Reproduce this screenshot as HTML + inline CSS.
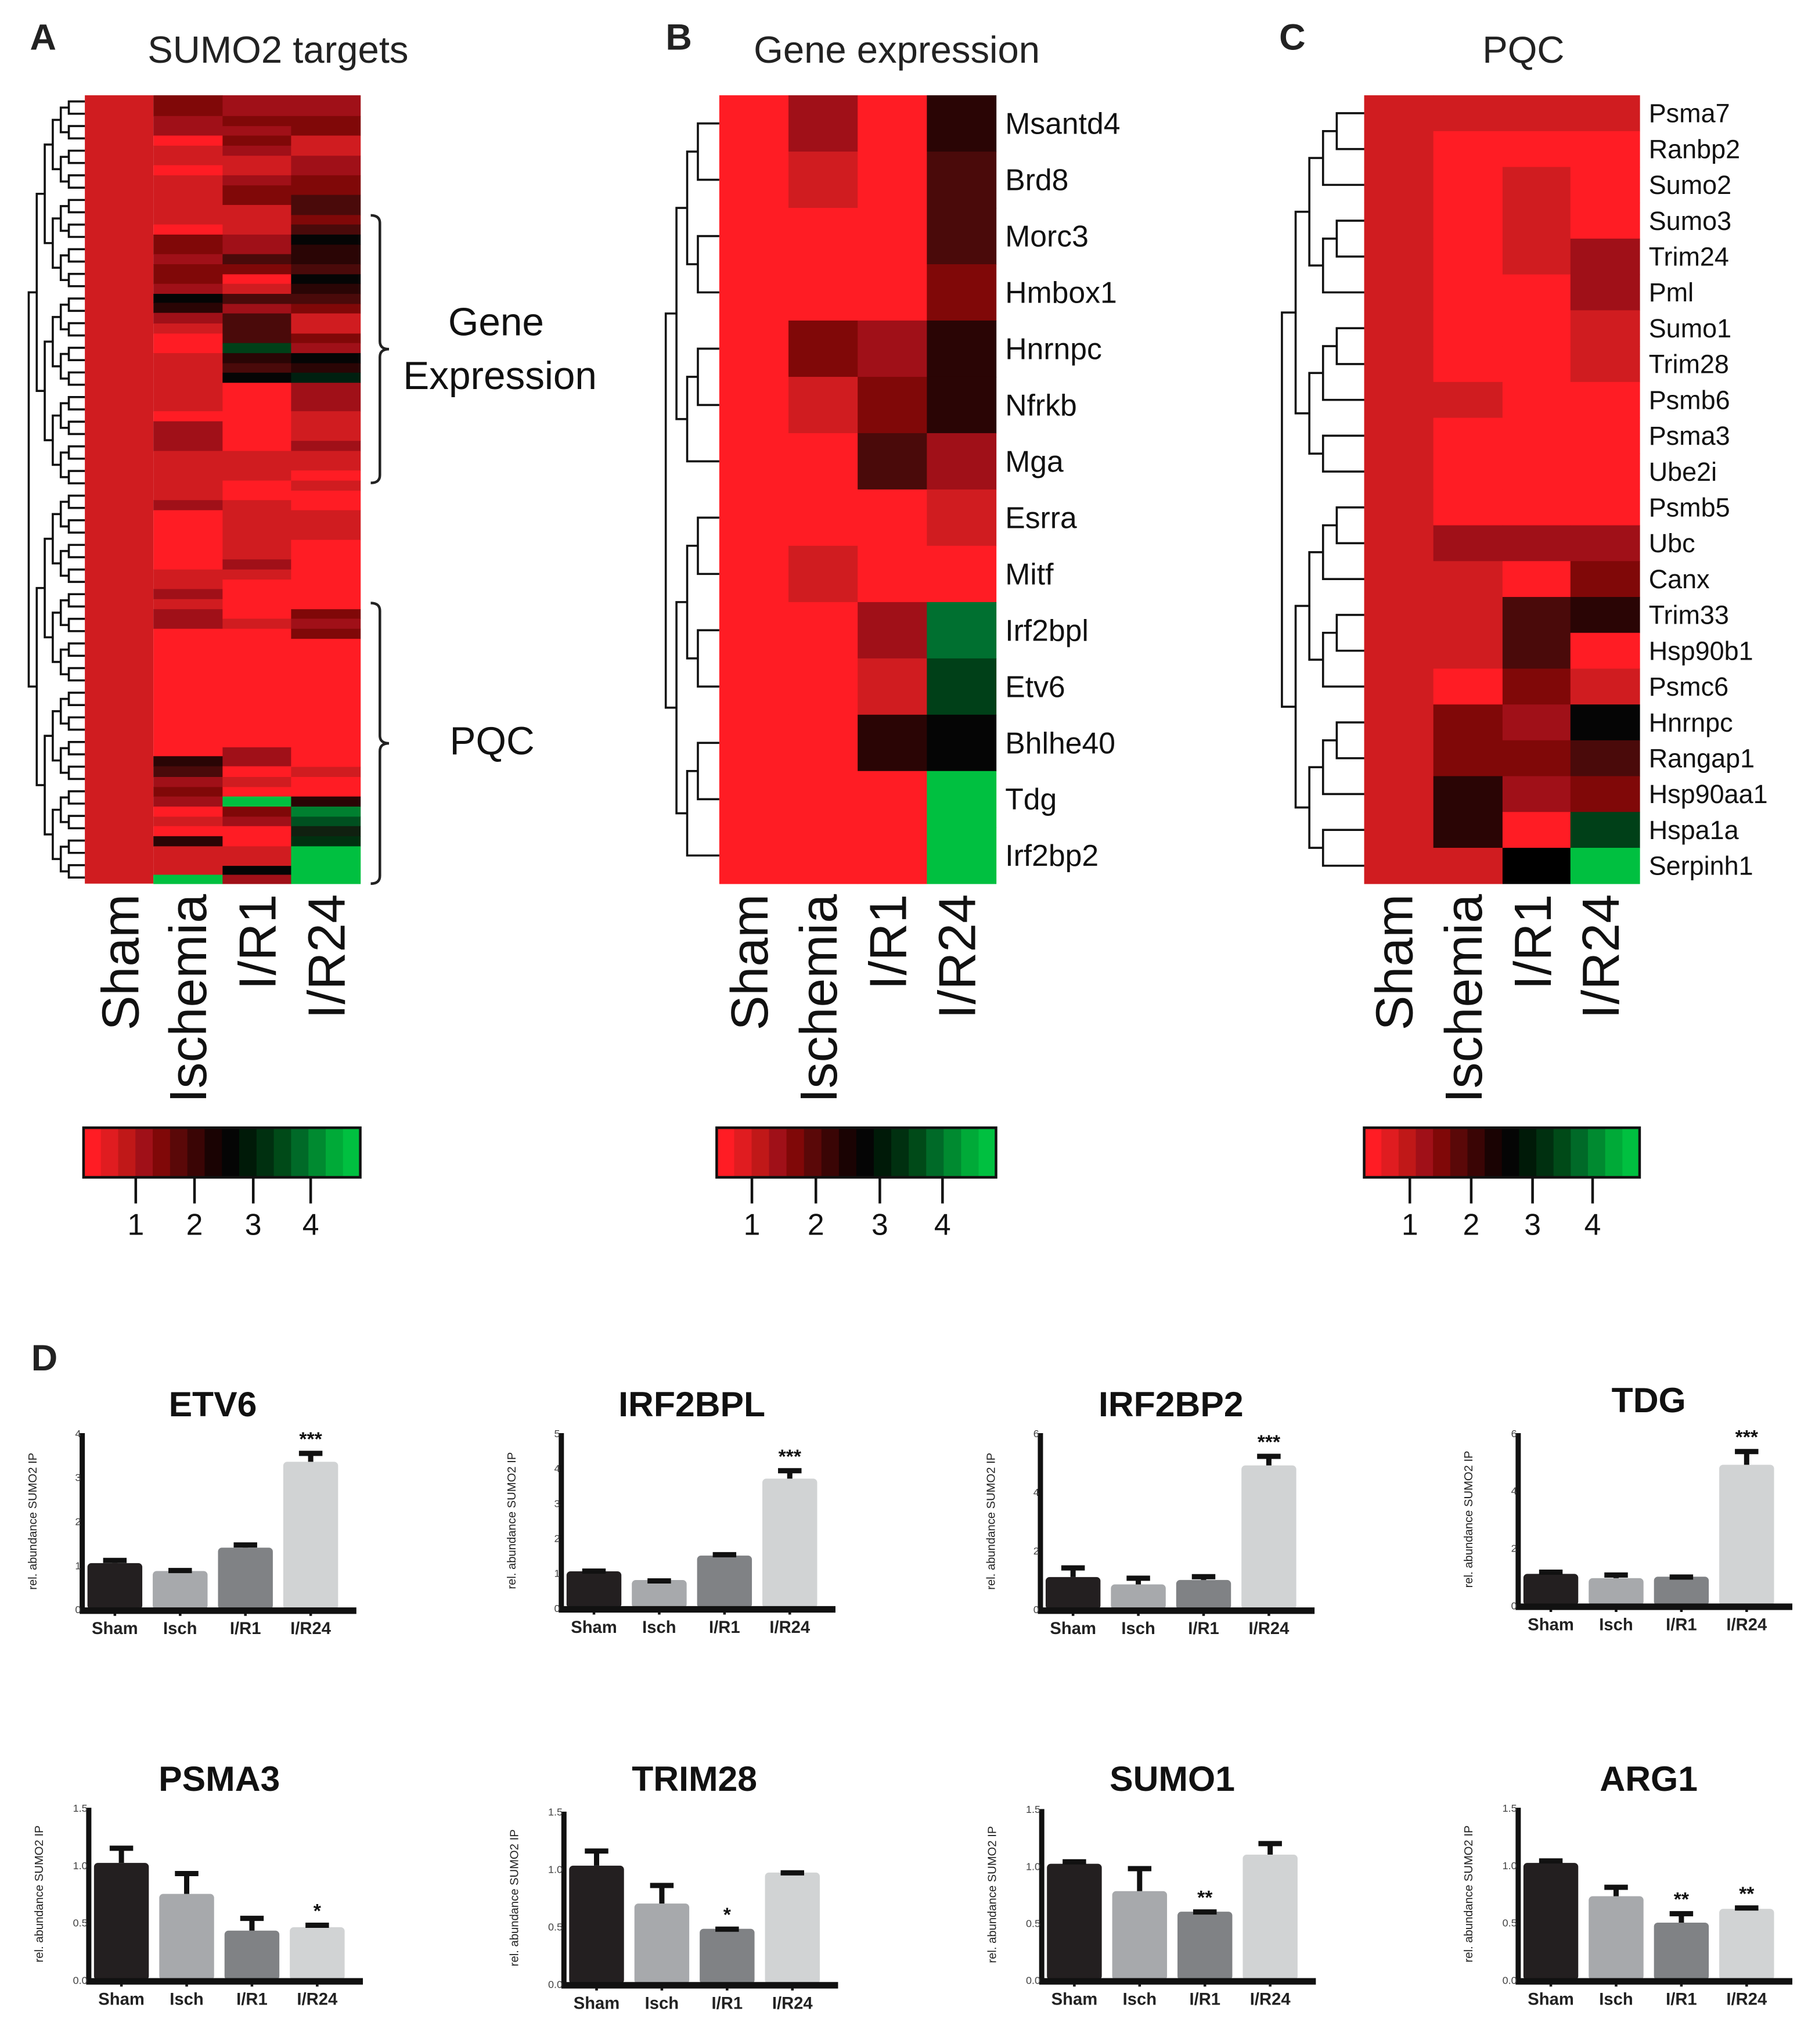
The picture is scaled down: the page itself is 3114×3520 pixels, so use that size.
<!DOCTYPE html>
<html><head><meta charset="utf-8"><style>
html,body{margin:0;padding:0;background:#fff;}
svg{display:block;}
text{font-family:"Liberation Sans",sans-serif;}
</style></head><body>
<svg id="fig" xmlns="http://www.w3.org/2000/svg" width="3114" height="3520" viewBox="0 0 1385 1566" preserveAspectRatio="none">
<rect x="0" y="0" width="1385" height="1566" fill="#fff"/>
<g id="gA"></g>
<g id="gB"></g>
<g id="gC"></g>
<g id="gD"></g>
</svg>
<script>
// ---------- data ----------
const conditions = ["Sham","Ischemia","I/R1","I/R24"];
const barCats = ["Sham","Isch","I/R1","I/R24"];
const colorbarTicks = ["1","2","3","4"];
// Heatmap A segments (in reference units 160..1490): [start,end,color]
const aIsch = [[160,195,"#800808"],[195,228,"#a01018"],[228,245,"#ff1c24"],[245,278,"#d01c20"],[278,295,"#ff1c24"],[295,378,"#d01c20"],[378,395,"#ff1c24"],[395,428,"#800808"],[428,445,"#a01018"],[445,478,"#800808"],[478,495,"#a01018"],[495,510,"#050505"],[510,527,"#2a0505"],[527,545,"#a01018"],[545,562,"#d01c20"],[562,595,"#ff1c24"],[595,693,"#d01c20"],[693,710,"#ff1c24"],[710,760,"#a01018"],[760,843,"#d01c20"],[843,860,"#a01018"],[860,960,"#ff1c24"],[960,993,"#d01c20"],[993,1010,"#a01018"],[1010,1027,"#d01c20"],[1027,1060,"#a01018"],[1060,1275,"#ff1c24"],[1275,1292,"#2a0505"],[1292,1310,"#4a0a0a"],[1310,1327,"#a01018"],[1327,1343,"#800808"],[1343,1360,"#a01018"],[1360,1377,"#ff1c24"],[1377,1393,"#d01c20"],[1393,1410,"#ff1c24"],[1410,1427,"#2a0505"],[1427,1475,"#d01c20"],[1475,1490,"#00c040"]];
const aIR1 = [[160,195,"#a01018"],[195,212,"#800808"],[212,228,"#a01018"],[228,245,"#800808"],[245,262,"#a01018"],[262,295,"#d01c20"],[295,312,"#a01018"],[312,345,"#800808"],[345,395,"#d01c20"],[395,428,"#a01018"],[428,445,"#4a0a0a"],[445,462,"#800808"],[462,478,"#ff1c24"],[478,495,"#d01c20"],[495,512,"#4a0a0a"],[512,528,"#a01018"],[528,578,"#4a0a0a"],[578,595,"#004018"],[595,612,"#2a0505"],[612,628,"#4a0a0a"],[628,645,"#050505"],[645,760,"#ff1c24"],[760,810,"#d01c20"],[810,843,"#ff1c24"],[843,943,"#d01c20"],[943,960,"#a01018"],[960,977,"#d01c20"],[977,1043,"#ff1c24"],[1043,1060,"#d01c20"],[1060,1260,"#ff1c24"],[1260,1292,"#a01018"],[1292,1310,"#ff1c24"],[1310,1327,"#d01c20"],[1327,1343,"#ff1c24"],[1343,1360,"#00c040"],[1360,1377,"#800808"],[1377,1393,"#a01018"],[1393,1427,"#ff1c24"],[1427,1460,"#d01c20"],[1460,1475,"#050505"],[1475,1490,"#a01018"]];
const aIR24 = [[160,195,"#a01018"],[195,228,"#800808"],[228,262,"#d01c20"],[262,295,"#a01018"],[295,328,"#800808"],[328,362,"#4a0a0a"],[362,378,"#800808"],[378,395,"#4a0a0a"],[395,412,"#050505"],[412,445,"#2a0505"],[445,462,"#4a0a0a"],[462,478,"#050505"],[478,495,"#2a0505"],[495,512,"#4a0a0a"],[512,528,"#800808"],[528,562,"#d01c20"],[562,578,"#800808"],[578,595,"#a01018"],[595,612,"#050505"],[612,628,"#2a0505"],[628,645,"#002010"],[645,693,"#a01018"],[693,743,"#d01c20"],[743,760,"#a01018"],[760,793,"#d01c20"],[793,810,"#ff1c24"],[810,827,"#d01c20"],[827,860,"#ff1c24"],[860,910,"#d01c20"],[910,1027,"#ff1c24"],[1027,1043,"#800808"],[1043,1060,"#a01018"],[1060,1077,"#800808"],[1077,1293,"#ff1c24"],[1293,1310,"#d01c20"],[1310,1343,"#ff1c24"],[1343,1360,"#2a0505"],[1360,1377,"#008030"],[1377,1393,"#005020"],[1393,1410,"#102010"],[1410,1427,"#003010"],[1427,1490,"#00c040"]];
const bGenes = ["Msantd4","Brd8","Morc3","Hmbox1","Hnrnpc","Nfrkb","Mga","Esrra","Mitf","Irf2bpl","Etv6","Bhlhe40","Tdg","Irf2bp2"];
const bIsch = ["#a01018","#d01c20","#ff1c24","#ff1c24","#800808","#d01c20","#ff1c24","#ff1c24","#d01c20","#ff1c24","#ff1c24","#ff1c24","#ff1c24","#ff1c24"];
const bIR1  = ["#ff1c24","#ff1c24","#ff1c24","#ff1c24","#a01018","#800808","#4a0a0a","#ff1c24","#ff1c24","#a01018","#d01c20","#2a0505","#ff1c24","#ff1c24"];
const bIR24 = ["#2a0505","#4a0a0a","#4a0a0a","#800808","#2a0505","#2a0505","#a01018","#d01c20","#ff1c24","#007030","#004018","#050505","#00c040","#00c040"];
const cGenes = ["Psma7","Ranbp2","Sumo2","Sumo3","Trim24","Pml","Sumo1","Trim28","Psmb6","Psma3","Ube2i","Psmb5","Ubc","Canx","Trim33","Hsp90b1","Psmc6","Hnrnpc","Rangap1","Hsp90aa1","Hspa1a","Serpinh1"];
const cIsch = ["#d01c20","#ff1c24","#ff1c24","#ff1c24","#ff1c24","#ff1c24","#ff1c24","#ff1c24","#d01c20","#ff1c24","#ff1c24","#ff1c24","#a01018","#d01c20","#d01c20","#d01c20","#ff1c24","#800808","#800808","#2a0505","#2a0505","#d01c20"];
const cIR1  = ["#d01c20","#ff1c24","#d01c20","#d01c20","#d01c20","#ff1c24","#ff1c24","#ff1c24","#ff1c24","#ff1c24","#ff1c24","#ff1c24","#a01018","#ff1c24","#4a0a0a","#4a0a0a","#800808","#a01018","#800808","#a01018","#ff1c24","#000000"];
const cIR24 = ["#d01c20","#ff1c24","#ff1c24","#ff1c24","#a01018","#a01018","#d01c20","#d01c20","#ff1c24","#ff1c24","#ff1c24","#ff1c24","#a01018","#800808","#2a0505","#ff1c24","#d01c20","#050505","#4a0a0a","#800808","#004018","#00c040"];
// Bar charts (panel D)
const barTitles = ["ETV6","IRF2BPL","IRF2BP2","TDG","PSMA3","TRIM28","SUMO1","ARG1"];
const barMax = [4,5,6,6,1.5,1.5,1.5,1.5];
const barTickLabels = [["0","1","2","3","4"],["0","1","2","3","4","5"],["0","2","4","6"],["0","2","4","6"],["0.0","0.5","1.0","1.5"],["0.0","0.5","1.0","1.5"],["0.0","0.5","1.0","1.5"],["0.0","0.5","1.0","1.5"]];
const barTickValues = [[0,1,2,3,4],[0,1,2,3,4,5],[0,2,4,6],[0,2,4,6],[0,0.5,1,1.5],[0,0.5,1,1.5],[0,0.5,1,1.5],[0,0.5,1,1.5]];
const barMeans = [[1.05,0.87,1.4,3.35],[1.05,0.8,1.5,3.7],[1.1,0.85,1.0,4.9],[1.1,0.95,1.0,4.9],[1.02,0.75,0.43,0.46],[1.03,0.7,0.48,0.97],[1.02,0.78,0.6,1.1],[1.02,0.73,0.5,0.62]];
const barErrors = [[0.12,0.07,0.12,0.25],[0.08,0.05,0.1,0.3],[0.4,0.3,0.2,0.4],[0.15,0.2,0.08,0.55],[0.15,0.2,0.13,0.04],[0.15,0.18,0.02,0.02],[0.04,0.22,0.02,0.12],[0.04,0.1,0.1,0.03]];
const barStars = [["","","","***"],["","","","***"],["","","","***"],["","","","***"],["","","","*"],["","","*",""],["","","**",""],["","","**","**"]];
const colorbarColors = ["#ff1c24","#e01c20","#c01818","#a01018","#800808","#5a0808","#3a0505","#1a0303","#050505","#001a08","#003010","#004a18","#006a28","#008a30","#00aa38","#00c040"];

// ---------- helpers ----------
const NS="http://www.w3.org/2000/svg";
function mk(parent,tag,attrs,txt){const e=document.createElementNS(NS,tag);for(const k in attrs)e.setAttribute(k,attrs[k]);if(txt!==undefined)e.textContent=txt;parent.appendChild(e);return e;}
function dendro(g,leafYs,xRight,xLeft){
  function rec(lo,hi,depth,maxDepth){
    if(lo===hi) return {y:leafYs[lo],x:xRight};
    const mid=Math.floor((lo+hi)/2);
    const a=rec(lo,mid,depth+1,maxDepth), b=rec(mid+1,hi,depth+1,maxDepth);
    const x=xLeft+(xRight-xLeft)*(depth/(maxDepth+1));
    const l1=mk(g,"path",{d:`M${a.x},${a.y}H${x}V${b.y}H${b.x}`,fill:"none",stroke:"#111","stroke-width":1.6});
    
    
    return {y:(a.y+b.y)/2,x:x};
  }
  const md=Math.ceil(Math.log2(leafYs.length));
  rec(0,leafYs.length-1,0,md);
}
function colorbar(g,x0,x1,ticks){
  const y0=864,y1=902,w=(x1-x0)/colorbarColors.length;
  colorbarColors.forEach((c,i)=>{const r=mk(g,"rect",{x:x0+i*w,y:y0,width:w+0.5,height:y1-y0,fill:c});
    });
  const b=mk(g,"rect",{x:x0,y:y0,width:x1-x0,height:y1-y0,fill:"none",stroke:"#111","stroke-width":2});
  
  ticks.forEach((tx,i)=>{mk(g,"line",{x1:tx,x2:tx,y1:y1,y2:y1+20,stroke:"#111","stroke-width":2});
    const t=mk(g,"text",{x:tx,y:946,"font-size":23,"text-anchor":"middle",fill:"#111"},colorbarTicks[i]);
    });
}
function colLabels(g,xs){
  conditions.forEach((c,i)=>{const t=mk(g,"text",{transform:`translate(${xs[i]+15},685) rotate(-90)`,"font-size":40,"text-anchor":"end",fill:"#111"},c);
    });
}
function header(g,letter,lx,title,tx){
  const a=mk(g,"text",{x:lx,y:38,"font-size":28,"font-weight":"bold","text-anchor":"middle",fill:"#222"},letter);
  
  const b=mk(g,"text",{x:tx,y:48,"font-size":29,"text-anchor":"middle",fill:"#222"},title);
  
}

// ---------- Panel A ----------
(function(){
  const g=document.getElementById("gA");
  header(g,"A",33,"SUMO2 targets",213);
  const top=73,bot=677,z0=160,z1=1490;
  const yz=z=>top+(z-z0)*(bot-top)/(z1-z0);
  const cx=[65,117.5,170.5,223,276];
  const sh=mk(g,"rect",{x:cx[0],y:top,width:cx[1]-cx[0],height:bot-top,fill:"#d01c20"});
  
  [aIsch,aIR1,aIR24].forEach((col,ci)=>{col.forEach(s=>{
    const r=mk(g,"rect",{x:cx[ci+1],y:yz(s[0]),width:cx[ci+2]-cx[ci+1]+0.3,height:yz(s[1])-yz(s[0])+0.3,fill:s[2]});
    });});
  const leaves=[];for(let i=0;i<64;i++)leaves.push(top+4.7+i*(bot-top-9.4)/63);
  dendro(g,leaves,65,22);
  function brace(y0,y1){
    const m=(y0+y1)/2;
    const p=mk(g,"path",{d:`M284,${y0}Q291,${y0} 291,${y0+6}V${m-6}Q291,${m} 298,${m}Q291,${m} 291,${m+6}V${y1-6}Q291,${y1} 284,${y1}`,fill:"none",stroke:"#222","stroke-width":2});
    
  }
  brace(165,370);brace(462,677);
  [["Gene",380,257],["Expression",383,298],["PQC",377,578]].forEach(a=>{
    const t=mk(g,"text",{x:a[1],y:a[2],"font-size":30,"text-anchor":"middle",fill:"#111"},a[0]);
    });
  colLabels(g,[91,143,196,249]);
  colorbar(g,64,276,[104,149,194,238]);
})();

// ---------- Panel B ----------
(function(){
  const g=document.getElementById("gB");
  header(g,"B",520,"Gene expression",687);
  const top=73,bot=677,x=[551,604,657,710,763],h=(bot-top)/bGenes.length;
  bGenes.forEach((gn,i)=>{
    ["#ff1c24",bIsch[i],bIR1[i],bIR24[i]].forEach((c,ci)=>{
      const r=mk(g,"rect",{x:x[ci],y:top+i*h,width:x[ci+1]-x[ci]+0.3,height:h+0.3,fill:c});
      });
    const t=mk(g,"text",{x:770,y:top+i*h+h/2+8,"font-size":23,fill:"#111"},gn);
    
  });
  const leaves=bGenes.map((_,i)=>top+i*h+h/2);
  dendro(g,leaves,551,510);
  colLabels(g,[573,626,679,732]);
  colorbar(g,549,763,[576,625,674,722]);
})();

// ---------- Panel C ----------
(function(){
  const g=document.getElementById("gC");
  header(g,"C",990,"PQC",1167);
  const top=73,bot=677,x=[1045,1098,1151,1203,1256],h=(bot-top)/cGenes.length;
  cGenes.forEach((gn,i)=>{
    ["#d01c20",cIsch[i],cIR1[i],cIR24[i]].forEach((c,ci)=>{
      const r=mk(g,"rect",{x:x[ci],y:top+i*h,width:x[ci+1]-x[ci]+0.3,height:h+0.3,fill:c});
      });
    const t=mk(g,"text",{x:1263,y:top+i*h+h/2+7,"font-size":20,fill:"#111"},gn);
    
  });
  const leaves=cGenes.map((_,i)=>top+i*h+h/2);
  dendro(g,leaves,1045,982);
  colLabels(g,[1067,1120,1173,1225]);
  colorbar(g,1045,1256,[1080,1127,1174,1220]);
})();

// ---------- Panel D ----------
(function(){
  const g=document.getElementById("gD");
  const d=mk(g,"text",{x:34,y:1050,"font-size":28,"font-weight":"bold","text-anchor":"middle",fill:"#222"},"D");
  
  const axX=[63,430,797,1163,68,432,798,1163];
  const axTop=[1098,1098,1098,1098,1385,1388,1386,1385];
  const axBot=[1233,1232,1233,1230,1517,1520,1517,1517];
  const titleY=[1085,1085,1085,1082,1372,1372,1372,1372];
  const fills=["#231f20","#a7a9ac","#808285","#d1d3d4"];
  barTitles.forEach((title,p)=>{
    const pg=mk(g,"g",{});
    
    
    const x0=axX[p],yt=axTop[p],yb=axBot[p],mx=barMax[p];
    const ys=v=>yb-(v/mx)*(yb-yt);
    const xs=i=>x0+25+i*50;
    const tt=mk(pg,"text",{x:x0+100,y:titleY[p],"font-size":27,"font-weight":"bold","text-anchor":"middle",fill:"#111"},title);
    
    const yl=mk(pg,"text",{transform:`translate(${x0-35},${(yt+yb)/2}) rotate(-90)`,"font-size":9,"text-anchor":"middle",fill:"#222"},"rel. abundance SUMO2 IP");
    
    barMeans[p].forEach((v,i)=>{
      const bw=42,cx=xs(i);
      const r=mk(pg,"rect",{x:cx-bw/2,y:ys(v),width:bw,height:yb-ys(v),rx:3,fill:fills[i]});
      
      const e=barErrors[p][i];
      const el=mk(pg,"path",{d:`M${cx},${ys(v)}V${ys(v+e)}M${cx-9},${ys(v+e)+2}H${cx+9}`,stroke:"#111","stroke-width":4,fill:"none"});
      
      if(barStars[p][i]){const s=mk(pg,"text",{x:cx,y:ys(v+e)-4,"font-size":15,"font-weight":"bold","text-anchor":"middle",fill:"#111"},barStars[p][i]);
        }
      mk(pg,"line",{x1:cx,x2:cx,y1:yb,y2:yb+5,stroke:"#111","stroke-width":2});
      const xl=mk(pg,"text",{x:cx,y:yb+19,"font-size":13,"font-weight":"bold","text-anchor":"middle",fill:"#222"},barCats[i]);
      
    });
    const ax=mk(pg,"path",{d:`M${x0},${yt}V${yb}`,stroke:"#111","stroke-width":4,fill:"none"});
    
    const bx=mk(pg,"path",{d:`M${x0-2},${yb+1}H${x0+210}`,stroke:"#111","stroke-width":5,fill:"none"});
    
    barTickValues[p].forEach((tv,k)=>{
      const t=mk(pg,"text",{x:x0-1,y:ys(tv)+3,"font-size":8,"text-anchor":"end",fill:"#444"},barTickLabels[p][k]);
      
    });
  });
})();
</script>
</body></html>
